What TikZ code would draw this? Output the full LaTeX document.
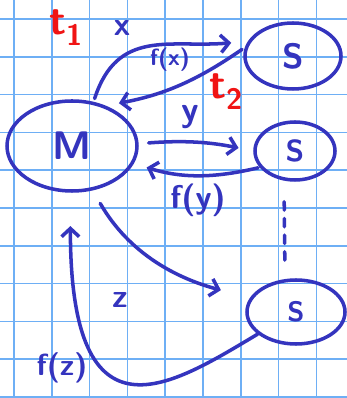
\documentclass[tikz,border=0pt]{standalone}
\usepackage{tikz}
\usetikzlibrary{shapes.geometric,arrows.meta}
\definecolor{inkblue}{RGB}{52,52,190}
\definecolor{inkred}{RGB}{240,20,20}
\definecolor{gridblue}{RGB}{110,175,245}

\begin{document}
\begin{tikzpicture}[x=0.03cm, y=0.03cm]
\tikzset{
  blob/.style={ellipse, draw=inkblue, line width=3pt, inner sep=0pt, text=inkblue},
  fl/.style={-{Straight Barb[length=7pt,width=15pt]}, line width=3pt, line cap=round, inkblue},
  lbl/.style={text=inkblue, font=\sffamily\bfseries\fontsize{24}{24}\selectfont, inner sep=0pt},
  tlbl/.style={text=inkred, font=\sffamily\bfseries\fontsize{36}{36}\selectfont, inner sep=0pt},
  gridl/.style={gridblue, line width=1.3pt}
}
\useasboundingbox[fill=white] (0,0) rectangle (347,398);
% grid paper
\foreach \i in {0,...,8} \draw[gridl] ({14+37.8*\i},0) -- ({14+37.8*\i},398);
\foreach \j in {0,...,10} \draw[gridl] (0,{379-37.8*\j}) -- (347,{379-37.8*\j});

% master and slaves
\node[blob, minimum width=3.9cm, minimum height=2.7cm, font=\sffamily\bfseries\fontsize{34}{34}\selectfont] (m) at (72,252) {M};
\node[blob, minimum width=2.88cm, minimum height=1.98cm, font=\sffamily\bfseries\fontsize{30}{30}\selectfont] (s1) at (293,342) {S};
\node[blob, minimum width=2.4cm, minimum height=1.74cm, font=\sffamily\bfseries\fontsize{26}{26}\selectfont] (s2) at (295,247) {S};
\node[blob, minimum width=2.94cm, minimum height=1.92cm, font=\sffamily\bfseries\fontsize{24}{24}\selectfont] (s3) at (296,86) {S};

\draw[inkblue, line width=3pt, line cap=round, dash pattern=on 0.25cm off 0.25cm, shorten <=0.6cm, shorten >=0.35cm]
  ([xshift=-0.33cm]s2.south) -- ([xshift=-0.33cm]s3.north);

% requests and replies
\draw[fl, shorten <=0.1cm, shorten >=0.5cm] (m.64) to[out=72, in=185, looseness=1.2] (s1.162);
\draw[fl, shorten <=0.1cm, shorten >=0.4cm] (s1.170) to[bend left=12] (m.50);
\draw[fl, shorten <=0.3cm, shorten >=0.45cm] (m.2) to[bend left=8] (s2.180);
\draw[fl, shorten <=0.05cm, shorten >=0.4cm] (s2.205) to[bend left=15] (m.-16);
\draw[fl, shorten <=0.45cm, shorten >=0.9cm] (m.-65) to[out=-60, in=165] (s3.163);
\draw[fl, shorten >=1cm] (s3.210) .. controls +(-84,-50) and +(0,-260) .. (m.-92);

\node[tlbl] (t1) at (66,370) {t\textsubscript{1}};
\node[tlbl] (t2) at (226,306) {t\textsubscript{2}};
\node[lbl, font=\sffamily\bfseries\fontsize{28}{28}\selectfont] (lx) at (122,370) {x};
\node[lbl, font=\sffamily\bfseries\fontsize{20}{20}\selectfont] (lfx) at (170,338) {f(x)};
\node[lbl, font=\sffamily\bfseries\fontsize{30}{30}\selectfont] (ly) at (190,281) {y};
\node[lbl, font=\sffamily\bfseries\fontsize{28}{28}\selectfont] (lfy) at (198,198) {f(y)};
\node[lbl, font=\sffamily\bfseries\fontsize{28}{28}\selectfont] (lz) at (120,98) {z};
\node[lbl, font=\sffamily\bfseries\fontsize{26}{26}\selectfont] (lfz) at (62,30) {f(z)};
\end{tikzpicture}
\end{document}
